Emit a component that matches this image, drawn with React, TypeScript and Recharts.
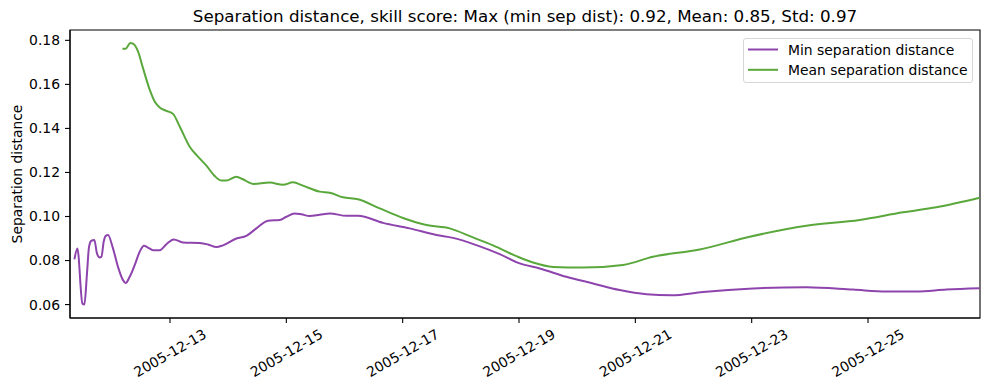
import React from 'react'
import { LineChart, Line, XAxis, YAxis, Legend, ReferenceArea } from 'recharts'

// day-of-month in December 2005 (fractional)
const minDays = [
  11.357, 11.408, 11.494, 11.528, 11.573, 11.608, 11.649, 11.7, 11.745, 11.791, 11.821, 11.86,
  11.894, 11.934, 12.02, 12.106, 12.192, 12.238, 12.307, 12.393, 12.479, 12.553, 12.622, 12.708,
  12.823, 12.938, 13.064, 13.223, 13.511, 13.653, 13.798, 13.911, 14.141, 14.313, 14.485, 14.685,
  14.886, 15.001, 15.144, 15.259, 15.402, 15.574, 15.746, 16.033, 16.232, 16.662, 17.121, 17.58,
  17.865, 18.267, 18.668, 19.012, 19.356, 19.815, 20.272, 20.731, 21.19, 21.62, 22.163, 23.022,
  23.94, 24.741, 25.316, 25.831, 26.347, 26.919,
]
const minValues = [
  0.0805, 0.0855, 0.0605, 0.06, 0.0741, 0.0862, 0.089, 0.0893, 0.0832, 0.0814, 0.0817, 0.0885,
  0.0911, 0.0916, 0.0855, 0.0771, 0.0711, 0.0698, 0.0726, 0.0779, 0.084, 0.0867, 0.0859, 0.0847,
  0.0847, 0.0874, 0.0896, 0.0882, 0.088, 0.0873, 0.0861, 0.0869, 0.09, 0.0912, 0.0946, 0.0981,
  0.0984, 0.0999, 0.1014, 0.101, 0.1002, 0.1008, 0.1014, 0.1003, 0.1003, 0.0971, 0.0946, 0.0916,
  0.0903, 0.087, 0.0829, 0.0787, 0.0764, 0.0726, 0.0696, 0.0666, 0.0647, 0.0642, 0.0657, 0.0673,
  0.0679, 0.0668, 0.0659, 0.0659, 0.0668, 0.0674,
]
const meanDays = [
  12.182, 12.238, 12.319, 12.364, 12.45, 12.536, 12.651, 12.737, 12.823, 12.938, 13.052, 13.167,
  13.339, 13.481, 13.626, 13.768, 13.884, 13.97, 14.141, 14.255, 14.427, 14.714, 14.943, 15.114,
  15.286, 15.574, 15.746, 15.974, 16.232, 16.605, 17.006, 17.408, 17.808, 18.209, 18.553, 18.955,
  19.24, 19.584, 20.1, 20.788, 21.303, 22.106, 22.966, 23.94, 24.857, 25.601, 26.175, 26.919,
]
const meanValues = [
  0.1762, 0.1762, 0.1788, 0.1785, 0.175, 0.1674, 0.1576, 0.1522, 0.1495, 0.148, 0.1466, 0.1409,
  0.1317, 0.1272, 0.1231, 0.1184, 0.1163, 0.1163, 0.1181, 0.1169, 0.1148, 0.1154, 0.1144, 0.1155,
  0.114, 0.1113, 0.1108, 0.1087, 0.1078, 0.1037, 0.0993, 0.0961, 0.0946, 0.0905, 0.0869, 0.082,
  0.0791, 0.0771, 0.0768, 0.078, 0.0817, 0.085, 0.0908, 0.0958, 0.0984, 0.1019, 0.1042, 0.1085,
]
const dayTicks = [13, 15, 17, 19, 21, 23, 25]
const valueTicks = [0.06, 0.08, 0.1, 0.12, 0.14, 0.16, 0.18]

const xDomain = [11.281, 26.925]
const yDomain = [0.0539, 0.1847]

const PURPLE = '#8e44ad'
const GREEN = '#5aa83c'
const FONT = '"DejaVu Sans", sans-serif'

const minData = minDays.map((d, i) => ({ day: d, value: minValues[i] }))
const meanData = meanDays.map((d, i) => ({ day: d, value: meanValues[i] }))

const DateTick = ({ x, y, payload }: any) => (
  <g transform={`translate(${x},${y + 28})`}>
    <text
      transform="rotate(-30)"
      textAnchor="middle"
      dominantBaseline="central"
      fontSize={13.9}
      fontFamily={FONT}
      fill="#000"
    >
      {`2005-12-${String(payload.value).padStart(2, '0')}`}
    </text>
  </g>
)

const LegendBox = () => (
  <div style={{ width: 230, height: 45, border: '1px solid #d6d6d6', borderRadius: 3, background: 'rgba(255,255,255,0.8)', boxSizing: 'border-box' }}>
    <svg width={228} height={43}>
      {[
        { label: 'Min separation distance', color: PURPLE },
        { label: 'Mean separation distance', color: GREEN },
      ].map((item, i) => (
        <g key={item.label}>
          <line x1={4} x2={34} y1={10.5 + i * 20.3} y2={10.5 + i * 20.3} stroke={item.color} strokeWidth={2} />
          <text x={44} y={10.5 + i * 20.3} dominantBaseline="central" fontSize={13.9} fontFamily={FONT} fill="#000">
            {item.label}
          </text>
        </g>
      ))}
    </svg>
  </div>
)

export default function App() {
  return (
    <div style={{ position: 'absolute', left: 0, top: 0, width: 989, height: 390, background: '#fff' }}>
      <LineChart width={989} height={390} margin={{ top: 30, right: 9, left: 0, bottom: 0 }}>
        <XAxis
          dataKey="day"
          type="number"
          domain={xDomain}
          ticks={dayTicks}
          allowDataOverflow
          height={72}
          tickSize={5}
          axisLine={{ stroke: '#000', strokeWidth: 1.1 }}
          tickLine={{ stroke: '#000', strokeWidth: 1.1 }}
          tick={<DateTick />}
        />
        <YAxis
          type="number"
          domain={yDomain}
          ticks={valueTicks}
          allowDataOverflow
          width={70}
          tickSize={5}
          tickMargin={5}
          axisLine={{ stroke: '#000', strokeWidth: 1.1 }}
          tickLine={{ stroke: '#000', strokeWidth: 1.1 }}
          tick={{ fill: '#000', fontSize: 13.9, fontFamily: FONT }}
          tickFormatter={(v: number) => v.toFixed(2)}
        />
        <ReferenceArea
          x1={xDomain[0]}
          x2={xDomain[1]}
          y1={yDomain[0]}
          y2={yDomain[1]}
          fill="none"
          stroke="#000"
          strokeWidth={1.1}
          ifOverflow="visible"
        />
        <Line data={minData} dataKey="value" name="Min separation distance" type="monotone" stroke={PURPLE} strokeWidth={2} dot={false} isAnimationActive={false} />
        <Line data={meanData} dataKey="value" name="Mean separation distance" type="monotone" stroke={GREEN} strokeWidth={2} dot={false} isAnimationActive={false} />
        <Legend
          layout="vertical"
          align="center"
          verticalAlign="middle"
          content={<LegendBox />}
          wrapperStyle={{ position: 'absolute', left: 743, top: 38, width: 230, height: 45 }}
        />
      </LineChart>
      <svg width={989} height={390} style={{ position: 'absolute', left: 0, top: 0, pointerEvents: 'none' }}>
        <text x={525} y={22} textAnchor="middle" fontSize={16.7} fontFamily={FONT} fill="#000">
          Separation distance, skill score: Max (min sep dist): 0.92, Mean: 0.85, Std: 0.97
        </text>
        <text x={22} y={174} transform="rotate(-90, 22, 174)" textAnchor="middle" fontSize={13.9} fontFamily={FONT} fill="#000">
          Separation distance
        </text>
      </svg>
    </div>
  )
}
